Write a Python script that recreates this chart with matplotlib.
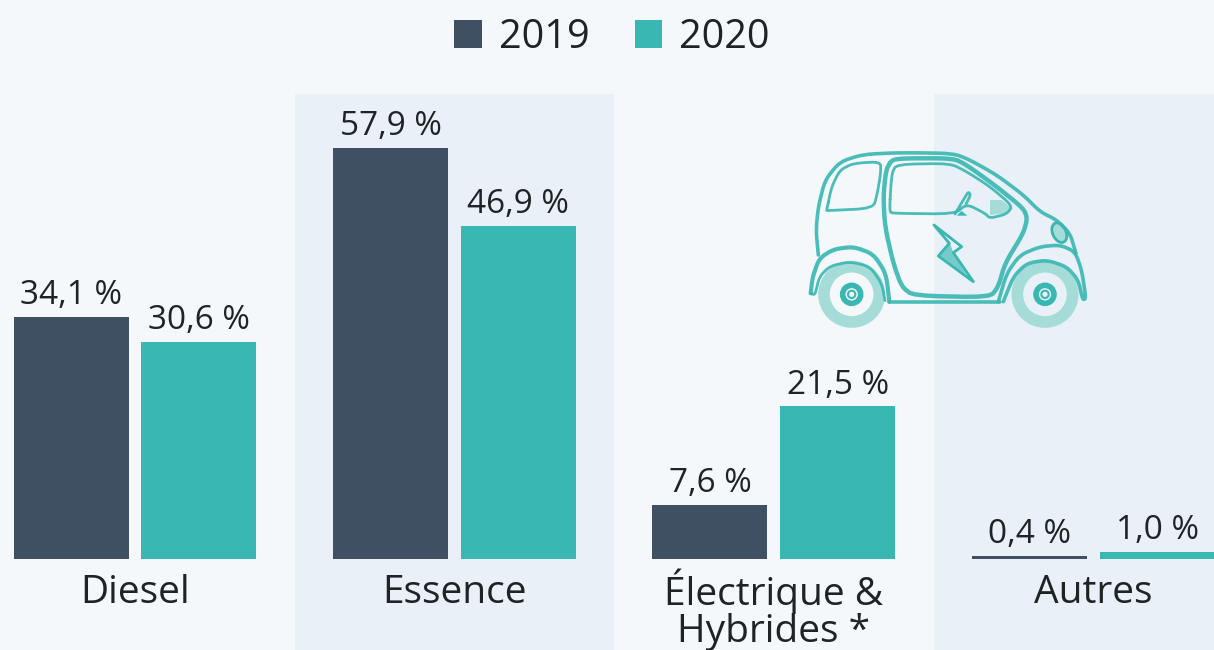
import matplotlib
matplotlib.use("Agg")
import matplotlib.pyplot as plt
from matplotlib.patches import Circle, Ellipse, Polygon

plt.rcParams['font.family'] = ['Open Sans', 'DejaVu Sans']

categories = ['Diesel', 'Essence', 'Électrique &\nHybrides *', 'Autres']
share_2019 = [34.1, 57.9, 7.6, 0.4]
share_2020 = [30.6, 46.9, 21.5, 1.0]
years = ['2019', '2020']

BG = '#f4f8fb'
BAND = '#e9f0f7'
DARK = '#3e5062'
TEAL = '#39b7b2'
LIGHT = '#a6dcd8'
TEXT = '#1f2326'

# chaikin corner cutting so the car outlines are not too angular
def smooth(pts, n=2, closed=False):
    for _ in range(n):
        out = [pts[0]] if not closed else []
        m = len(pts) if closed else len(pts) - 1
        for i in range(m):
            a, b = pts[i], pts[(i + 1) % len(pts)]
            out.append((.8 * a[0] + .2 * b[0], .8 * a[1] + .2 * b[1]))
            out.append((.2 * a[0] + .8 * b[0], .2 * a[1] + .8 * b[1]))
        if not closed:
            out.append(pts[-1])
        pts = out
    return pts

def stroke(ax, pts, lw=2.0, closed=False):
    s = smooth(pts, closed=closed)
    if closed:
        s = s + [s[0]]
    ax.plot([p[0] for p in s], [p[1] for p in s], color=TEAL, lw=lw,
            solid_capstyle='round', solid_joinstyle='round', alpha=.9)

# car icon, coordinates are from a 960x630 box around it
def draw_car(ax):
    ax.set_xlim(0, 960)
    ax.set_ylim(630, 0)
    ax.axis('off')
    # wheels
    for cx in [185, 765]:
        ax.add_patch(Circle((cx, 493), 83, fill=False, ec=LIGHT, lw=8.4))
        ax.add_patch(Circle((cx, 493), 27, fill=False, ec=TEAL, lw=4))
        ax.add_patch(Circle((cx, 493), 11, fill=False, ec=TEAL, lw=1.5))
    stroke(ax, [(85, 375), (78, 300), (85, 230), (105, 150), (150, 95), (220, 73),
                (330, 68), (490, 70), (540, 90), (620, 135), (700, 195), (750, 245),
                (800, 270), (840, 310), (858, 370)], lw=2.6)
    stroke(ax, [(110, 240), (125, 170), (150, 120), (190, 100), (272, 95), (272, 130),
                (262, 190), (250, 235), (110, 242)], lw=2.0, closed=True)
    stroke(ax, [(305, 90), (288, 120), (280, 200), (285, 290), (310, 400), (335, 470),
                (370, 497), (600, 502), (625, 470), (645, 400), (700, 310), (712, 265),
                (700, 235), (620, 170), (530, 105), (490, 85), (340, 85)], lw=3.2, closed=True)
    stroke(ax, [(298, 245), (305, 130), (320, 103), (480, 100), (530, 125), (600, 170),
                (668, 228), (650, 252), (600, 265), (585, 250), (530, 222), (495, 252),
                (310, 250)], lw=2.0, closed=True)
    stroke(ax, [(495, 252), (520, 210), (535, 185), (542, 195), (528, 222)], lw=2.0)
    ax.add_patch(Polygon([(600, 210), (635, 210), (665, 235), (650, 250), (600, 255)],
                         fc=LIGHT, ec='none'))
    ax.add_patch(Polygon([(500, 257), (515, 243), (532, 257)], fc=TEAL, ec='none'))
    # arches
    stroke(ax, [(62, 490), (68, 440), (88, 385), (130, 358), (190, 350), (250, 372),
                (288, 430), (298, 515)], lw=3.0)
    stroke(ax, [(62, 490), (75, 495), (88, 440), (120, 408), (180, 395), (240, 410),
                (275, 460), (285, 512)], lw=2.0)
    stroke(ax, [(625, 515), (650, 430), (690, 375), (750, 350), (810, 345), (855, 365),
                (875, 420), (888, 505), (878, 510), (865, 450), (830, 410), (770, 390),
                (710, 400), (670, 440), (640, 515)], lw=2.6)
    stroke(ax, [(298, 517), (630, 517)], lw=2.6)
    ax.add_patch(Ellipse((808, 308), 40, 62, angle=-25, fc=LIGHT, ec=TEAL, lw=2))
    # lightning bolt
    ax.add_patch(Polygon([(432, 285), (515, 350), (490, 368), (550, 455), (445, 378),
                          (478, 340)], fc='none', ec=TEAL, lw=2, joinstyle='round'))
    ax.add_patch(Polygon([(447, 378), (480, 340), (490, 368), (530, 435)],
                         fc=TEAL, ec='none', alpha=.65))

fig = plt.figure(figsize=(12.14, 6.5), dpi=100, facecolor=BG)
ax = fig.add_axes([0, 0, 1, 1], facecolor=BG)

x = list(range(len(categories)))
w = .36
off = .2
bars_a = ax.bar([i - off for i in x], share_2019, w, color=DARK, label=years[0], zorder=2)
bars_b = ax.bar([i + off for i in x], share_2020, w, color=TEAL, label=years[1], zorder=2)

ax.set_xlim(-.4225, 3.378)
ax.set_ylim(-12.82, 78.75)
ax.axis('off')

# alternating bands behind the bars
for i in [1, 3]:
    ax.fill_between([i - .5, i + .5], -12.82, 65.5, color=BAND, lw=0, zorder=0)

for bars, vals in [(bars_a, share_2019), (bars_b, share_2020)]:
    for b, v in zip(bars, vals):
        ax.annotate(f'{v:.1f} %'.replace('.', ','), (b.get_x() + b.get_width() / 2, v),
                    xytext=(0, 3.5), textcoords='offset points', ha='center', va='bottom',
                    fontsize=24, color=TEXT)

# va baseline uses the last line, so two line labels go one line lower
for i, c in zip(x, categories):
    ax.annotate(c, (i, 0), xytext=(0, -31.5 - 28 * c.count('\n')), textcoords='offset points',
                ha='center', va='baseline', fontsize=28, color=TEXT, linespacing=.97)

fig.legend(handles=[bars_a, bars_b], loc='upper left', bbox_to_anchor=(.345, 1.028), ncol=2,
           frameon=False, fontsize=28.5, handlelength=.7, handleheight=.7, handletextpad=.43,
           columnspacing=1.13, labelcolor=TEXT)

car = fig.add_axes([790 / 1214, 1 - 340 / 650, 320 / 1214, 210 / 650], facecolor='none')
draw_car(car)

fig.savefig('out.png', dpi=100, facecolor=BG)
